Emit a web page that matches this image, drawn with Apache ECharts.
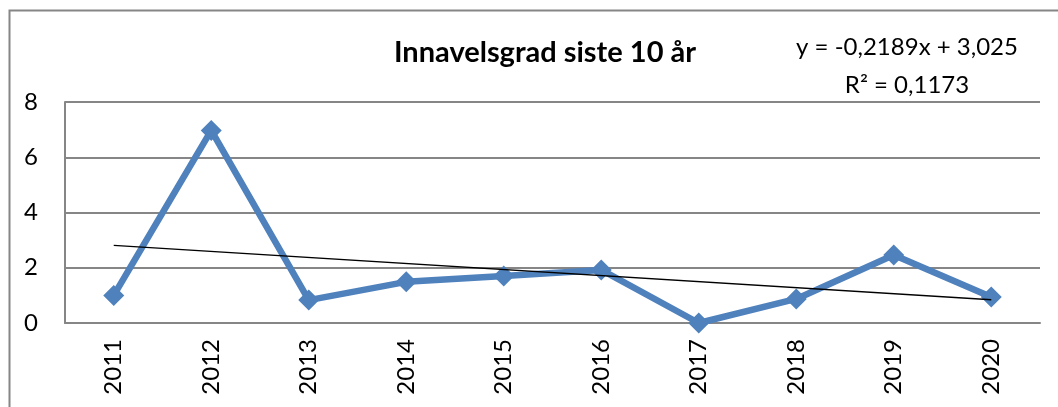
<!DOCTYPE html>
<html>
<head>
<meta charset="utf-8">
<script src="https://cdn.jsdelivr.net/npm/echarts@6/dist/echarts.min.js"></script>
<style>
  html, body { margin: 0; padding: 0; background: #fff; }
  #chart { width: 1058px; height: 407px; }
</style>
</head>
<body>
<div id="chart"></div>
<script>
// data
const years = ['2011', '2012', '2013', '2014', '2015', '2016', '2017', '2018', '2019', '2020'];
const inbreeding = [1.0, 6.97, 0.83, 1.49, 1.7, 1.92, 0.0, 0.87, 2.46, 0.94];
// linear trendline, first and last category
const trendEnds = [2.81, 0.84];
const yTicks = { min: 0, max: 8, interval: 2 };
const equationText = ['y = -0,2189x + 3,025', 'R² = 0,1173'];

const chart = echarts.init(document.getElementById('chart'));
const font = 'Lato, "Open Sans", sans-serif';

chart.setOption({
  animation: false,
  textStyle: { fontFamily: font },
  title: {
    text: 'Innavelsgrad siste 10 år',
    left: 540, top: 33, textAlign: 'center',
    textStyle: { fontSize: 29, fontWeight: 'bold', color: '#000', fontFamily: font }
  },
  graphic: [
    // outer chart border (right and bottom are cut off in the reference)
    { type: 'rect', shape: { x: 9.5, y: 10.5, width: 1100, height: 500 },
      style: { fill: 'none', stroke: '#868686', lineWidth: 2 } },
    { type: 'text', x: 907, y: 28, style: {
        text: equationText.join('\n'), align: 'center',
        fontSize: 24, lineHeight: 38, fill: '#000', fontFamily: font } }
  ],
  grid: { left: 65, right: 18, top: 102, bottom: 84, containLabel: false },
  xAxis: {
    type: 'category',
    data: years,
    boundaryGap: true,
    axisLine: { lineStyle: { color: '#868686', width: 2 } },
    axisTick: { show: false },
    axisLabel: { rotate: 90, color: '#000', fontSize: 24, margin: 16, fontFamily: font }
  },
  yAxis: {
    type: 'value',
    min: yTicks.min, max: yTicks.max, interval: yTicks.interval,
    axisLine: { show: true, lineStyle: { color: '#868686', width: 2 } },
    axisTick: { show: false },
    axisLabel: { color: '#000', fontSize: 24, margin: 27, fontFamily: font },
    splitLine: { lineStyle: { color: '#868686', width: 2 } }
  },
  series: [
    {
      name: 'Innavelsgrad',
      type: 'line',
      data: inbreeding,
      symbol: 'diamond',
      symbolSize: 21,
      itemStyle: { color: '#4F81BD' },
      lineStyle: { color: '#4F81BD', width: 6.5 },
      z: 3
    },
    {
      name: 'Trend',
      type: 'line',
      data: [[0, trendEnds[0]], [years.length - 1, trendEnds[1]]],
      symbol: 'none',
      lineStyle: { color: '#000', width: 1.5 },
      z: 4
    }
  ]
});
</script>
</body>
</html>
